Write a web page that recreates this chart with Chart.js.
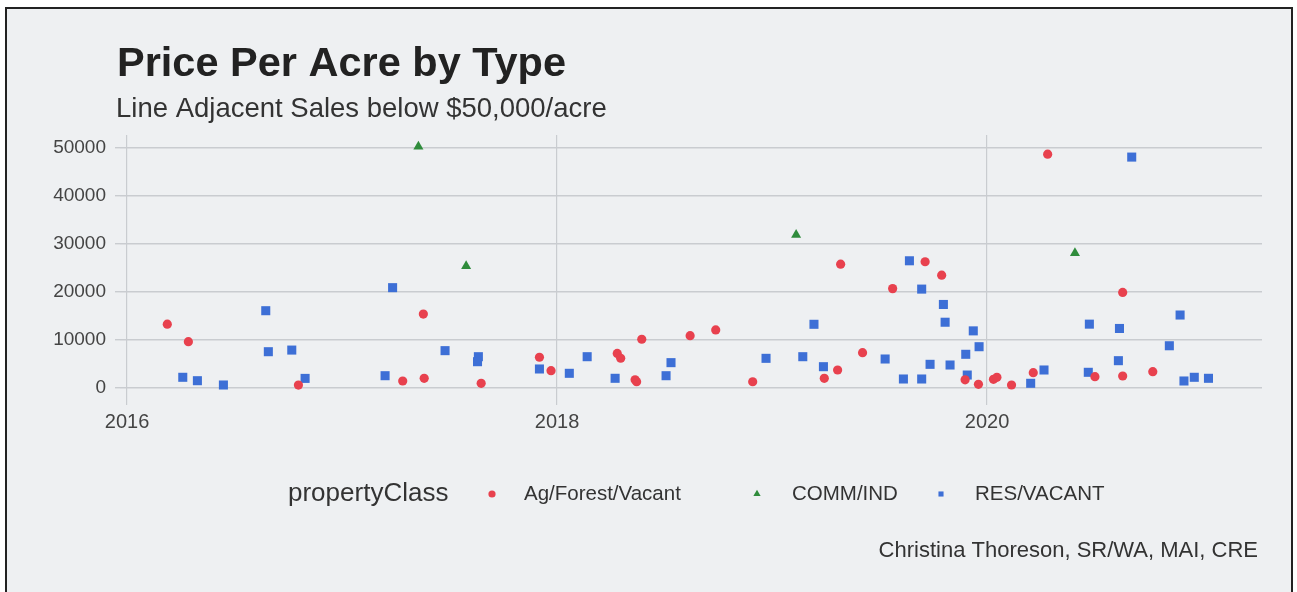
<!DOCTYPE html>
<html><head><meta charset="utf-8">
<script src="https://cdn.jsdelivr.net/npm/chart.js@4/dist/chart.umd.min.js"></script>
<style>html,body{margin:0;padding:0;background:#fff;} canvas{display:block;}</style>
</head><body>
<canvas id="c" width="1297" height="592"></canvas>
<script>
// ---- data (x = sale date as decimal year, y = price per acre) ----
const seriesNames = ["Ag/Forest/Vacant", "COMM/IND", "RES/VACANT"];
const seriesColors = ["#e8414e", "#2f8c3c", "#3d6fd6"];
const xTickYears = [2016, 2018, 2020];
const yTickValues = [0, 10000, 20000, 30000, 40000, 50000];

const agDates = [2016.187, 2016.285, 2016.797, 2017.282, 2017.378, 2017.382, 2017.647, 2017.918, 2017.972, 2018.280, 2018.296, 2018.363, 2018.370, 2018.394, 2018.619, 2018.738, 2018.910, 2019.243, 2019.305, 2019.319, 2019.421, 2019.561, 2019.712, 2019.789, 2019.898, 2019.960, 2020.030, 2020.046, 2020.114, 2020.215, 2020.282, 2020.502, 2020.631, 2020.631, 2020.771];
const agValues = [13300, 9650, 600, 1460, 15400, 2020, 980, 6400, 3600, 7200, 6200, 1700, 1300, 10150, 10900, 12100, 1300, 2020, 3750, 25800, 7350, 20700, 26300, 23500, 1700, 770, 1800, 2230, 625, 3200, 48700, 2350, 19900, 2500, 3400];

const commDates = [2017.355, 2017.577, 2019.112, 2020.409];
const commValues = [50300, 25400, 31900, 28100];

const resDates = [2016.259, 2016.327, 2016.448, 2016.645, 2016.657, 2016.766, 2016.828, 2017.200, 2017.235, 2017.479, 2017.634, 2017.630, 2017.918, 2018.057, 2018.140, 2018.270, 2018.507, 2018.530, 2018.972, 2019.143, 2019.195, 2019.239, 2019.526, 2019.611, 2019.639, 2019.696, 2019.696, 2019.735, 2019.797, 2019.805, 2019.828, 2019.901, 2019.908, 2019.936, 2019.963, 2020.203, 2020.265, 2020.471, 2020.476, 2020.611, 2020.616, 2020.673, 2020.848, 2020.898, 2020.916, 2020.964, 2021.030];
const resValues = [2230, 1520, 625, 16100, 7560, 7900, 2000, 2560, 20900, 7780, 6520, 5480, 3960, 3060, 6520, 2020, 2560, 5280, 6180, 6520, 13270, 4440, 6040, 1875, 26500, 1875, 20600, 4930, 17400, 13700, 4790, 7020, 2700, 11900, 8600, 980, 3750, 3270, 13300, 5690, 12400, 48100, 8800, 15200, 1460, 2230, 2020];

const titleText = "Price Per Acre by Type";
const subtitleText = "Line Adjacent Sales below $50,000/acre";
const legendTitle = "propertyClass";
const captionText = "Christina Thoreson, SR/WA, MAI, CRE";

const FONT = "'Liberation Sans', Arial, Helvetica, sans-serif";
const toPts = (xs, ys) => xs.map((x, i) => ({x: x, y: ys[i]}));

const pointStyles = ["circle", "triangle", "rect"];
const pointRadii = [4.6, 5.8, 6.4];

const bgPlugin = {
  id: "bg",
  beforeDraw(chart) {
    const ctx = chart.ctx;
    ctx.save();
    ctx.fillStyle = "#ffffff";
    ctx.fillRect(0, 0, chart.width, chart.height);
    ctx.fillStyle = "#eef0f2";
    ctx.fillRect(7, 9, 1285, 583);
    ctx.strokeStyle = "#222";
    ctx.lineWidth = 2;
    ctx.beginPath();
    ctx.moveTo(6, 592); ctx.lineTo(6, 8); ctx.lineTo(1292, 8); ctx.lineTo(1292, 592);
    ctx.stroke();
    ctx.restore();
  }
};

const textPlugin = {
  id: "texts",
  afterDraw(chart) {
    const ctx = chart.ctx;
    ctx.save();
    ctx.textBaseline = "alphabetic";
    ctx.textAlign = "left";
    ctx.fillStyle = "#222";
    ctx.font = "bold 41.5px " + FONT;
    ctx.fillText(titleText, 117, 76);
    ctx.fillStyle = "#333";
    ctx.font = "27.5px " + FONT;
    ctx.fillText(subtitleText, 116, 117);
    // legend
    ctx.textBaseline = "middle";
    ctx.fillStyle = "#333";
    ctx.font = "26px " + FONT;
    ctx.fillText(legendTitle, 288, 494);
    const markX = [492, 757, 941];
    const textX = [524, 792, 975];
    ctx.font = "20.5px " + FONT;
    chart.data.datasets.forEach((ds, i) => {
      ctx.fillStyle = ds.backgroundColor;
      ctx.strokeStyle = ds.backgroundColor;
      Chart.helpers.drawPoint(ctx, {pointStyle: ds.pointStyle, radius: i === 1 ? 4.2 : 3.6, rotation: 0, borderWidth: 0}, markX[i], 494);
      ctx.fillStyle = "#333";
      ctx.fillText(ds.label, textX[i], 494);
    });
    // caption
    ctx.textAlign = "right";
    ctx.font = "22px " + FONT;
    ctx.fillText(captionText, 1258, 551);
    ctx.restore();
  }
};

new Chart(document.getElementById("c"), {
  type: "scatter",
  data: {
    datasets: [
      {label: seriesNames[0], data: toPts(agDates, agValues)},
      {label: seriesNames[1], data: toPts(commDates, commValues)},
      {label: seriesNames[2], data: toPts(resDates, resValues)}
    ].map((d, i) => Object.assign(d, {
      backgroundColor: seriesColors[i], borderColor: seriesColors[i], borderWidth: 0,
      pointStyle: pointStyles[i], pointRadius: pointRadii[i], pointHoverRadius: pointRadii[i]
    }))
  },
  options: {
    responsive: false,
    animation: false,
    layout: {padding: {left: 10, right: 35, top: 135, bottom: 162}},
    plugins: {legend: {display: false}, tooltip: {enabled: false}, title: {display: false}},
    scales: {
      x: {
        type: "linear", min: 2015.967, max: 2021.279,
        afterBuildTicks: s => { s.ticks = xTickYears.map(v => ({value: v})); },
        afterFit: s => { s.height = 30; },
        border: {display: false},
        grid: {color: "#c9ccd0", lineWidth: 1.2, tickLength: 5, drawTicks: true},
        ticks: {padding: 5, color: "#444", font: {family: FONT, size: 20}, callback: v => String(v), maxRotation: 0}
      },
      y: {
        min: -2500, max: 52700,
        afterBuildTicks: s => { s.ticks = yTickValues.map(v => ({value: v})); },
        afterFit: s => { s.width = 110; },
        border: {display: false},
        grid: {color: "#c9ccd0", lineWidth: 1.4, tickLength: 5},
        ticks: {padding: 9, color: "#444", font: {family: FONT, size: 19}, callback: v => String(v)}
      }
    }
  },
  plugins: [bgPlugin, textPlugin]
});
</script>
</body></html>
